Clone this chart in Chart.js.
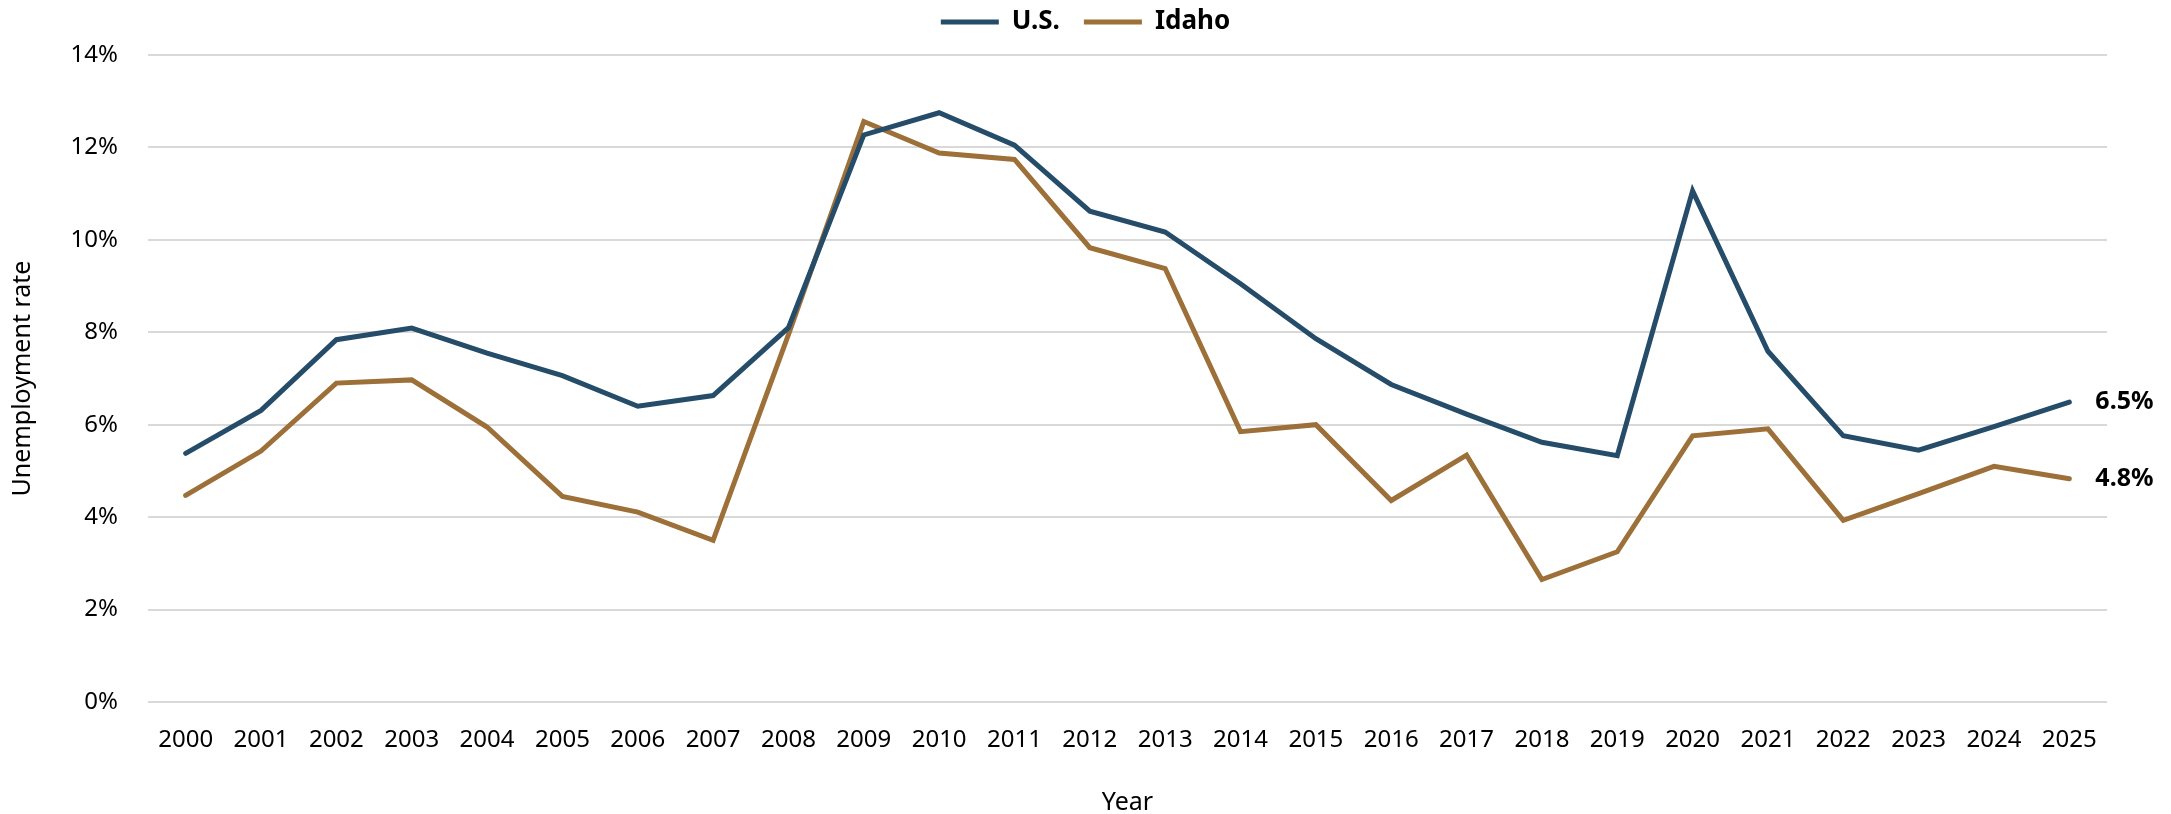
<!DOCTYPE html>
<html>
<head>
<meta charset="utf-8">
<script src="https://cdn.jsdelivr.net/npm/chart.js@4.4.1/dist/chart.umd.min.js"></script>
<style>
  html, body { margin: 0; padding: 0; background: #ffffff; }
  #wrap { width: 2171px; height: 814px; position: relative; }
</style>
</head>
<body>
<div id="wrap"><canvas id="c" width="2171" height="814"></canvas></div>
<script>
const years = ["2000","2001","2002","2003","2004","2005","2006","2007","2008","2009","2010","2011","2012","2013","2014","2015","2016","2017","2018","2019","2020","2021","2022","2023","2024","2025"];
const usRate = [5.38,6.31,7.84,8.09,7.55,7.06,6.40,6.63,8.10,12.27,12.75,12.05,10.62,10.17,9.05,7.86,6.87,6.23,5.62,5.33,11.06,7.59,5.76,5.45,5.96,6.49];
const idahoRate = [4.47,5.43,6.90,6.97,5.95,4.45,4.11,3.50,7.95,12.56,11.88,11.74,9.83,9.38,5.85,6.00,4.36,5.34,2.65,3.25,5.76,5.91,3.93,4.51,5.10,4.83];
const yTicks = [0,2,4,6,8,10,12,14];
const seriesNames = ["U.S.","Idaho"];
const seriesColors = ["#254c68","#9c7038"];

const FONT = "'Noto Sans', 'Open Sans', sans-serif";

const endLabels = {
  id: 'endLabels',
  afterDatasetsDraw(chart) {
    const ctx = chart.ctx;
    ctx.save();
    ctx.font = "bold 25px " + FONT;
    ctx.fillStyle = "#000000";
    ctx.textAlign = "left";
    ctx.textBaseline = "middle";
    chart.data.datasets.forEach((ds, i) => {
      const meta = chart.getDatasetMeta(i);
      const last = meta.data[meta.data.length - 1];
      const v = ds.data[ds.data.length - 1];
      ctx.fillText(v.toFixed(1) + "%", last.x + 26, last.y);
    });
    ctx.restore();
  }
};

const legendShift = {
  id: 'legendShift',
  afterLayout(chart) {
    if (chart.legend) {
      chart.legend.top -= 10;
      chart.legend.bottom -= 10;
    }
  }
};

new Chart(document.getElementById('c'), {
  type: 'line',
  data: {
    labels: years,
    datasets: [
      { label: seriesNames[0], data: usRate, borderColor: seriesColors[0], backgroundColor: seriesColors[0],
        borderWidth: 5, pointRadius: 0, pointHoverRadius: 0, tension: 0, borderCapStyle: 'round', borderJoinStyle: 'miter' },
      { label: seriesNames[1], data: idahoRate, borderColor: seriesColors[1], backgroundColor: seriesColors[1],
        borderWidth: 5, pointRadius: 0, pointHoverRadius: 0, tension: 0, borderCapStyle: 'round', borderJoinStyle: 'miter' }
    ]
  },
  options: {
    responsive: false,
    animation: false,
    devicePixelRatio: 1,
    layout: { padding: { top: -27, left: 0, right: 0, bottom: 0 } },
    plugins: {
      legend: {
        display: true,
        position: 'top',
        align: 'center',
        labels: {
          usePointStyle: true,
          pointStyle: 'line',
          pointStyleWidth: 58,
          boxHeight: 26,
          padding: 24,
          color: '#000000',
          font: { family: FONT, size: 26, weight: 'bold' }
        }
      },
      tooltip: { enabled: false }
    },
    scales: {
      x: {
        type: 'category',
        offset: true,
        grid: { display: false, drawTicks: false },
        border: { display: false },
        ticks: { color: '#000000', padding: 24, maxRotation: 0, autoSkip: false, font: { family: FONT, size: 24 } },
        title: { display: true, text: 'Year', color: '#000000', padding: { top: 0, bottom: -4 }, font: { family: FONT, size: 25 } },
        afterFit(scale) { scale.height = 112; scale.paddingRight = 64; }
      },
      y: {
        min: 0,
        max: 14,
        afterBuildTicks(scale) { scale.ticks = yTicks.map(v => ({ value: v })); },
        grid: { color: '#d9d9d9', lineWidth: 2, drawTicks: false },
        border: { display: false },
        ticks: { color: '#000000', padding: 30, font: { family: FONT, size: 24 }, callback: (v) => v + '%' },
        title: { display: true, text: 'Unemployment rate', color: '#000000', padding: { top: 8, bottom: 0 }, font: { family: FONT, size: 25 } },
        afterFit(scale) { scale.width = 148; scale.paddingTop = 55; }
      }
    }
  },
  plugins: [endLabels, legendShift]
});
</script>
</body>
</html>
